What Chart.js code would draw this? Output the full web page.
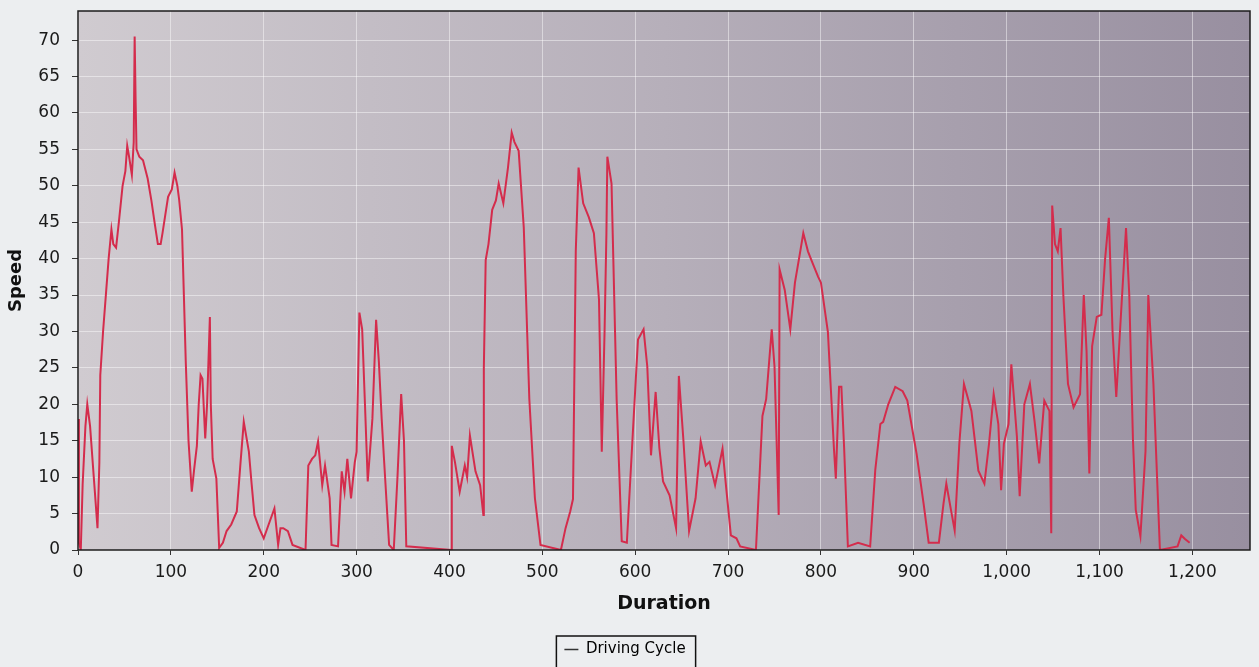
<!DOCTYPE html>
<html>
<head>
<meta charset="utf-8">
<title>Driving Cycle</title>
<script src="https://cdn.jsdelivr.net/npm/chart.js@4.4.1/dist/chart.umd.min.js"></script>
<style>
  html, body { margin: 0; padding: 0; background: #eceef0; }
  canvas { display: block; }
</style>
</head>
<body>
<canvas id="line-chart" width="1259" height="667"></canvas>
<script>
// duration in s, speed
const durations = [
  0, 1, 3, 5, 8, 10, 13, 17, 21, 23, 24, 27, 30, 33, 36, 38, 41, 44, 48, 51,
  53, 55, 58, 60, 61, 62, 63, 66, 70, 75, 79, 83, 86, 89, 91, 94, 97, 101, 104, 107,
  109, 112, 114, 116, 119, 122.5, 125, 128, 130, 132, 134, 137, 139, 142, 143, 145, 149, 152, 156, 160,
  165, 171, 175, 178.5, 184, 187, 190, 195, 200, 205, 211.5, 215.5, 218, 221, 226, 231, 245, 248, 252, 255.5,
  258.5, 263, 266, 271, 273, 280, 284, 287, 290, 294, 298, 300, 303, 306, 309, 312, 317, 321, 324, 327,
  329.5, 335, 340, 344, 348, 351, 353.5, 402, 402.5, 406, 411, 416.5, 419, 422, 428, 433, 436.5, 437, 439, 442,
  446, 450, 453, 458, 463, 467, 470, 474.5, 480, 486, 492, 498, 520, 525, 530, 533, 536, 539, 544, 550,
  555.5, 561, 564, 567, 569, 570, 574.5, 580, 585.5, 591, 596.5, 600, 603, 609, 613, 617, 622, 626, 630, 637,
  644, 647, 652, 658, 665, 670.5, 676, 680, 686, 694, 698, 703, 709, 713, 730, 737, 741, 747, 750, 754.5,
  755.5, 761, 767, 772, 778, 781, 786, 791, 797, 800, 807.5, 814, 816, 819.5, 822, 825, 829, 840, 853, 858.5,
  864, 867, 872.5, 880, 888, 893, 903, 910.5, 916, 927, 932, 935, 940, 944, 949, 954, 962, 969.5, 976, 981,
  986, 991, 994, 997, 1002, 1005, 1011, 1014, 1019, 1025, 1030, 1035, 1040.5, 1046, 1048, 1049, 1052, 1055, 1058, 1061,
  1066, 1072, 1079, 1083, 1086, 1089, 1092, 1097, 1102, 1106, 1110, 1114, 1118, 1122, 1128.5, 1132, 1136, 1139, 1144, 1149.5,
  1152.5, 1158, 1165, 1184, 1188, 1192, 1197
];
const speeds = [
  18, 1, 0, 9, 17, 20, 17, 10, 3, 12, 24, 30, 35, 40, 44, 42, 41.5, 45, 50, 52,
  55.5, 54, 51.5, 56, 70.5, 62, 55, 54, 53.5, 51, 48, 44.5, 42, 42, 43.5, 46, 48.5, 49.5, 51.8, 50,
  48, 44, 35, 26, 15, 8, 11, 14.3, 20, 24, 23.5, 15.3, 20, 32, 20, 12.5, 9.8, 0.3, 1, 2.6,
  3.5, 5.3, 12, 17.6, 13.5, 9, 4.8, 3, 1.6, 3.4, 5.7, 0.7, 3, 3, 2.6, 0.7, 0, 11.6, 12.5, 13,
  14.9, 8.9, 11.6, 7.1, 0.7, 0.5, 10.8, 8, 12.5, 7.1, 12, 13.5, 32.6, 30.3, 20, 9.4, 18, 31.6, 25.8, 18,
  12.5, 0.7, 0, 10, 21.4, 15, 0.5, 0, 14.3, 12, 8, 11.6, 10, 15.7, 10.8, 8.9, 4.8, 25, 39.8, 42,
  46.7, 48, 50.3, 47.6, 52.5, 57.3, 56, 54.8, 44.3, 20.7, 7.1, 0.7, 0, 3, 5.3, 7, 41, 52.5, 47.6, 45.7,
  43.5, 34.4, 13.5, 30, 43.5, 54, 50.3, 20.7, 1.2, 1, 13.9, 22, 28.9, 30.3, 25.2, 13, 21.7, 14, 9.4, 7.5,
  3, 23.9, 14.9, 2.6, 7.1, 14.9, 11.6, 12.1, 8.9, 13.9, 8.5, 2, 1.6, 0.5, 0, 18.4, 20.7, 30.3, 25.2, 4.8,
  38.5, 35.7, 30.3, 36.7, 41.2, 43.5, 41, 39.4, 37.5, 36.7, 29.9, 13.9, 9.8, 22.4, 22.4, 13.9, 0.5, 1, 0.5, 11,
  17.3, 17.6, 20, 22.4, 21.8, 20.5, 13.2, 6.4, 1, 1, 6.4, 9.1, 5.5, 2.7, 14.6, 22.8, 19.1, 10.9, 9.1, 14.6,
  21.4, 17.3, 8.2, 14.6, 17.3, 25.5, 15.6, 7.4, 20, 22.8, 17.7, 11.9, 20.5, 19.1, 2.3, 47.3, 42, 41, 44.2, 35,
  22.8, 19.6, 21.4, 35, 27.3, 10.5, 28, 32, 32.3, 40, 45.6, 30, 21, 30, 44.2, 35, 15, 5.5, 1.9, 13.6,
  35, 22.8, 0, 0.5, 2, 1.5, 1
];
const seriesName = 'Driving Cycle';
const xTitle = 'Duration';
const yTitle = 'Speed';

const points = durations.map((d, i) => ({ x: d, y: speeds[i] }));
const lineColor = 'rgb(212, 44, 76)';

// grey plot background that darkens to the right, like the photo
const plotBackground = {
  id: 'plotBackground',
  beforeDraw(chart) {
    const { ctx, chartArea: a } = chart;
    const g = ctx.createLinearGradient(a.left, 0, a.right, 0);
    g.addColorStop(0, 'rgb(208, 203, 208)');
    g.addColorStop(0.5, 'rgb(182, 175, 186)');
    g.addColorStop(1, 'rgb(152, 143, 160)');
    ctx.save();
    ctx.fillStyle = g;
    ctx.fillRect(a.left, a.top, a.right - a.left, a.bottom - a.top);
    ctx.restore();
  },
  afterDraw(chart) {
    const { ctx, chartArea: a } = chart;
    ctx.save();
    ctx.strokeStyle = '#1c1c1c';
    ctx.lineWidth = 1.5;
    ctx.strokeRect(a.left, a.top, a.right - a.left, a.bottom - a.top);
    // frame around the legend item
    const box = chart.legend.legendHitBoxes[0];
    if (box) {
      ctx.lineWidth = 1.5;
      ctx.strokeStyle = '#111';
      ctx.strokeRect(box.left - 8, box.top - 6, box.width + 18, box.height + 30);
    }
    ctx.restore();
  }
};

new Chart(document.getElementById('line-chart'), {
  type: 'line',
  data: {
    datasets: [
      {
        label: seriesName,
        data: points,
        borderColor: lineColor,
        backgroundColor: lineColor,
        borderWidth: 2,
        pointRadius: 0,
        tension: 0,
        fill: false
      }
    ]
  },
  options: {
    responsive: false,
    animation: false,
    layout: { padding: { left: 0, right: 9, top: 11, bottom: 0 } },
    plugins: {
      legend: {
        position: 'bottom',
        labels: {
          usePointStyle: true,
          pointStyle: 'line',
          pointStyleWidth: 14,
          boxHeight: 14,
          padding: 12,
          color: '#111',
          font: { family: 'DejaVu Sans', size: 15 },
          generateLabels(chart) {
            return [{
              text: seriesName,
              strokeStyle: '#333',
              fillStyle: '#333',
              lineWidth: 1.5,
              pointStyle: 'line',
              datasetIndex: 0
            }];
          }
        }
      },
      tooltip: { enabled: false }
    },
    scales: {
      x: {
        type: 'linear',
        min: 0,
        max: 1262,
        afterFit(scale) {
          scale.height = 80;
          scale.paddingLeft = 0;
          scale.paddingRight = 0;
        },
        ticks: {
          stepSize: 100,
          includeBounds: false,
          padding: 7,
          color: '#1a1a1a',
          font: { family: 'DejaVu Sans', size: 17 }
        },
        grid: {
          color: 'rgba(255, 255, 255, 0.45)',
          lineWidth: 1,
          tickLength: 5,
          tickColor: '#333'
        },
        border: { display: false },
        title: {
          display: true,
          text: xTitle,
          color: '#111',
          font: { family: 'DejaVu Sans', size: 19, weight: 'bold' },
          padding: { top: 4, bottom: 15 }
        }
      },
      y: {
        min: 0,
        max: 74,
        afterFit(scale) {
          scale.width = 78;
          scale.paddingTop = 0;
          scale.paddingBottom = 0;
        },
        ticks: {
          stepSize: 5,
          includeBounds: false,
          padding: 12,
          color: '#1a1a1a',
          font: { family: 'DejaVu Sans', size: 17 }
        },
        grid: {
          color: 'rgba(255, 255, 255, 0.45)',
          lineWidth: 1,
          tickLength: 6,
          tickColor: '#333'
        },
        border: { display: false },
        title: {
          display: true,
          text: yTitle,
          color: '#111',
          font: { family: 'DejaVu Sans', size: 18, weight: 'bold' },
          padding: { top: 6, bottom: 4 }
        }
      }
    }
  },
  plugins: [plotBackground]
});
</script>
</body>
</html>
